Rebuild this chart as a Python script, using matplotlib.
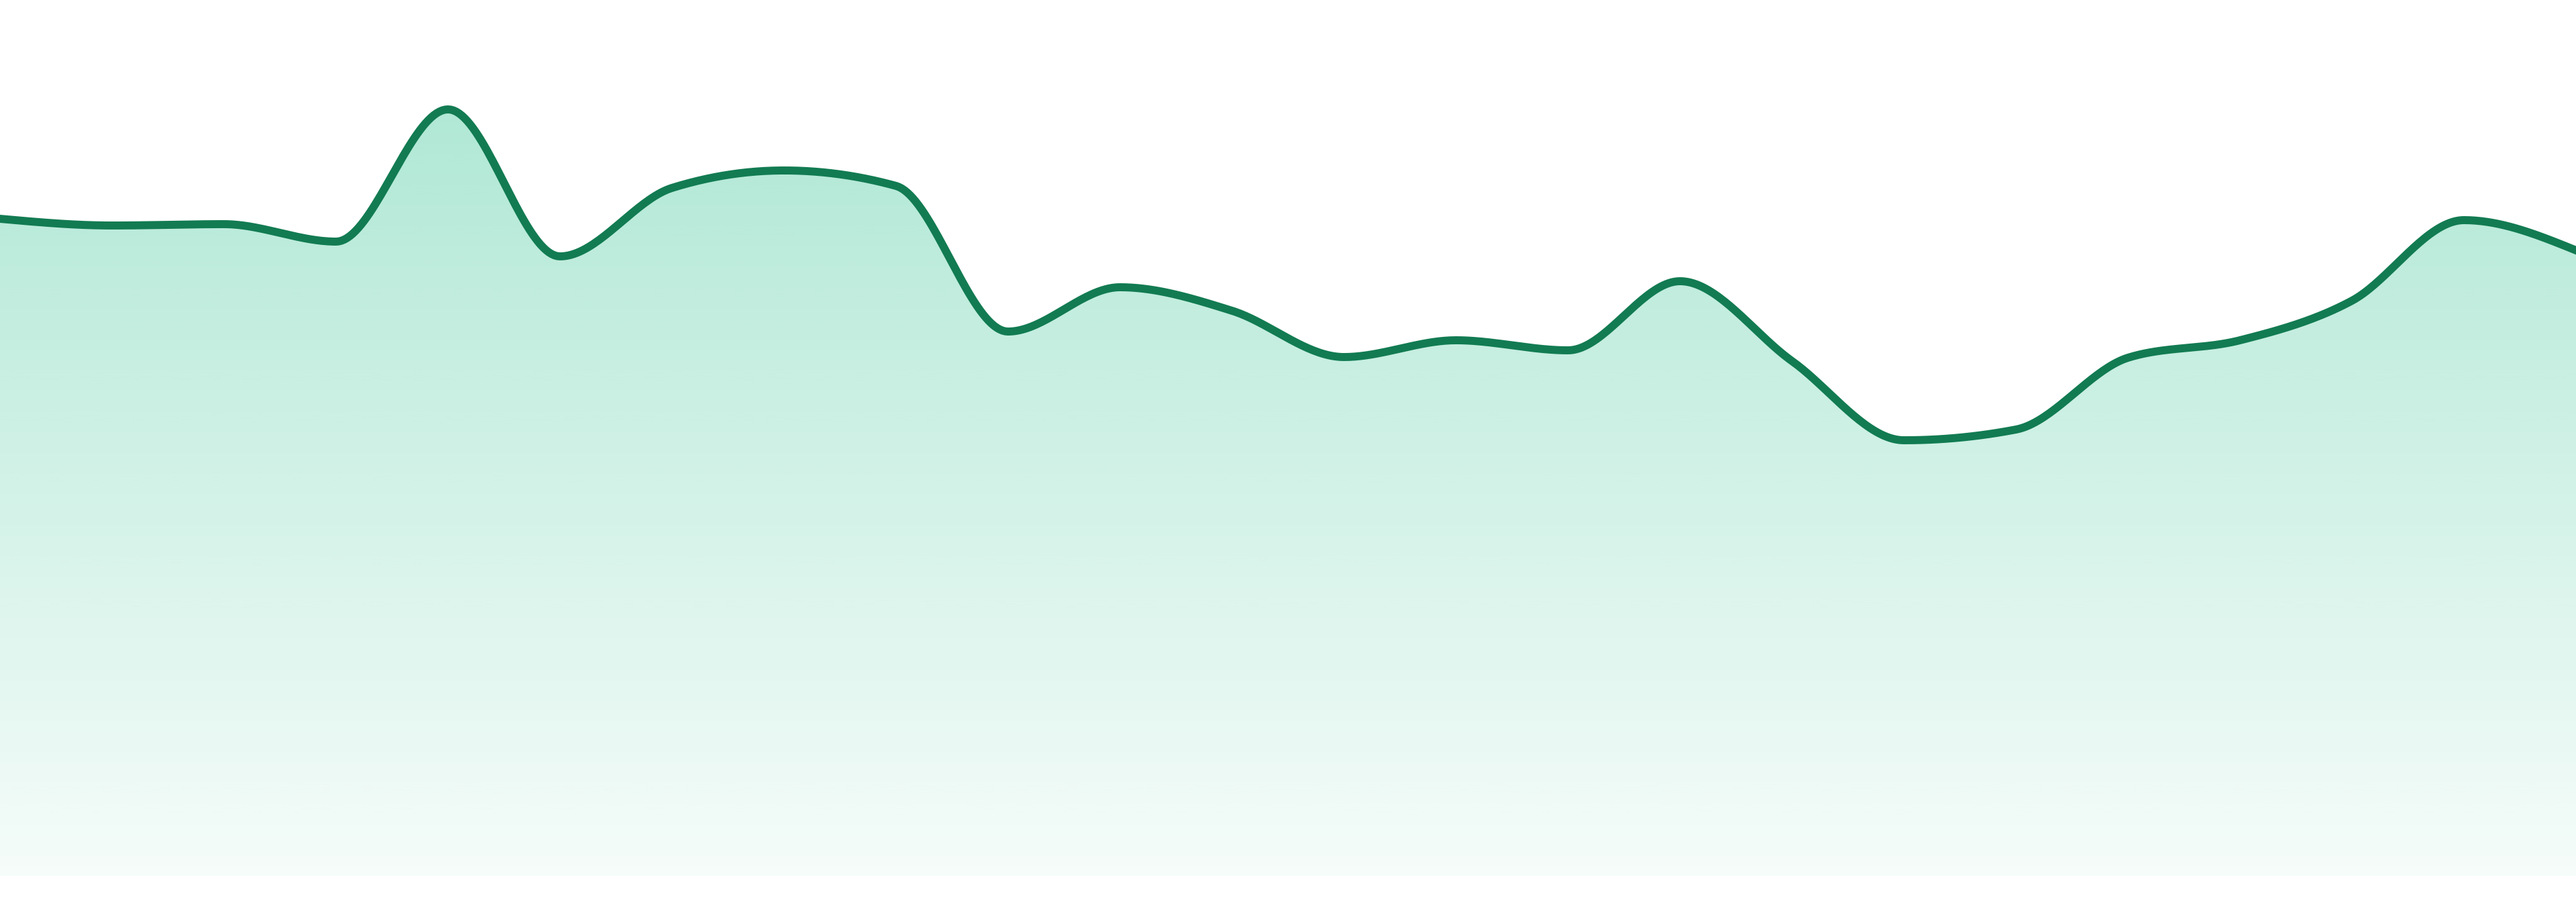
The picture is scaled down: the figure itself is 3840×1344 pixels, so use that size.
import numpy as np
import matplotlib
matplotlib.use('Agg')
from matplotlib import pyplot as plt

# one value per step, 24 steps across the full width
steps = np.arange(24)
values = [97.9, 96.9, 97.1, 94.5, 114.2, 92.3, 102.5, 105.1, 102.8, 81.1, 87.7, 84.2,
          77.3, 79.8, 78.3, 88.6, 76.7, 64.9, 66.5, 77.2, 79.8, 85.7, 97.7, 93.2]

LINE_COLOR = '#127b52'
FILL_RGB = (16 / 255, 185 / 255, 129 / 255)
Y_MAX = 130.5


def monotone_x(x, y, n=40):
    # same idea as d3.curveMonotoneX (Steffen slopes + cubic hermite)
    x = np.asarray(x, float)
    y = np.asarray(y, float)
    h = np.diff(x)
    s = np.diff(y) / h
    t = np.zeros_like(y)
    for i in range(1, len(y) - 1):
        p = (s[i - 1] * h[i] + s[i] * h[i - 1]) / (h[i - 1] + h[i])
        t[i] = (np.sign(s[i - 1]) + np.sign(s[i])) * min(abs(s[i - 1]), abs(s[i]), 0.5 * abs(p))
    t[0] = (3 * s[0] - t[1]) / 2
    t[-1] = (3 * s[-1] - t[-2]) / 2
    xs, ys = [], []
    for i in range(len(y) - 1):
        u = np.linspace(0, 1, n, endpoint=(i == len(y) - 2))
        h00 = 2 * u**3 - 3 * u**2 + 1
        h10 = u**3 - 2 * u**2 + u
        h01 = -2 * u**3 + 3 * u**2
        h11 = u**3 - u**2
        xs.append(x[i] + u * h[i])
        ys.append(h00 * y[i] + h10 * h[i] * t[i] + h01 * y[i + 1] + h11 * h[i] * t[i + 1])
    return np.concatenate(xs), np.concatenate(ys)


fig = plt.figure(figsize=(38.4, 13.44), dpi=100)
ax = fig.add_axes([0, 39 / 1344, 1, 1305 / 1344])
ax.axis('off')

cx, cy = monotone_x(steps, values)

# gradient fill under the curve, fading out towards the bottom
area = ax.fill_between(cx, cy, 0, color='none', lw=0)
rgba = np.zeros((256, 1, 4))
rgba[..., :3] = FILL_RGB
rgba[..., 3] = np.linspace(0.04, 0.33, 256).reshape(-1, 1)
img = ax.imshow(rgba, extent=[steps[0], steps[-1], 0, max(values)], origin='lower',
                aspect='auto', interpolation='bilinear', zorder=1)
img.set_clip_path(area.get_paths()[0], transform=ax.transData)

ax.plot(cx, cy, color=LINE_COLOR, lw=8.6, zorder=3)

# imshow resets the limits, so set them last
ax.set_xlim(steps[0], steps[-1])
ax.set_ylim(0, Y_MAX)

fig.savefig('out.png', dpi=100, facecolor='white')
plt.close()
